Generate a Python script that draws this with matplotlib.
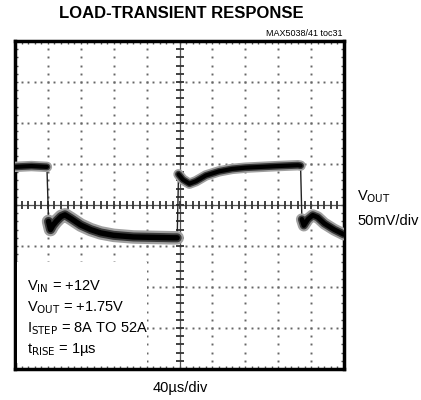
import numpy as np
import matplotlib
matplotlib.use("Agg")
import matplotlib.pyplot as plt
from matplotlib.patches import Rectangle

plt.rcParams['font.family'] = ['Liberation Sans', 'DejaVu Sans']

# Trace (time in divisions, level in divisions), split at the load steps
seg1_t = [0.0, 0.5, 0.97]
seg1_v = [0.93, 0.95, 0.93]
seg2_t = [1.02, 1.08, 1.15, 1.25, 1.4, 1.52, 1.7, 2.0, 2.3, 2.6, 3.0, 3.6, 4.2, 4.8, 4.93]
seg2_v = [-0.4, -0.6, -0.5, -0.4, -0.28, -0.24, -0.33, -0.49, -0.6, -0.68, -0.74, -0.78, -0.79, -0.8, -0.8]
seg3_t = [4.97, 5.1, 5.3, 5.5, 5.8, 6.2, 6.6, 7.0, 7.5, 8.0, 8.6, 8.68]
seg3_v = [0.75, 0.62, 0.52, 0.58, 0.72, 0.82, 0.88, 0.91, 0.93, 0.95, 0.97, 0.96]
seg4_t = [8.72, 8.78, 8.9, 9.05, 9.2, 9.4, 9.7, 10.0]
seg4_v = [-0.35, -0.5, -0.35, -0.25, -0.3, -0.45, -0.6, -0.72]
segments = [(seg1_t, seg1_v, 1.0), (seg2_t, seg2_v, 1.3), (seg3_t, seg3_v, 1.0), (seg4_t, seg4_v, 1.15)]

n_xdiv, n_ydiv = 10, 8
title = "LOAD-TRANSIENT RESPONSE"
code = "MAX5038/41 toc31"
xlabel = "40\u00b5s/div"
conds = [r"V$_{\rm IN}$ = +12V", r"V$_{\rm OUT}$ = +1.75V",
         r"I$_{\rm STEP}$ = 8A TO 52A", "t$_{\\rm RISE}$ = 1\u00b5s"]

W, H = 421, 400
fig = plt.figure(figsize=(W/100, H/100), dpi=100)
L, R, T, B = 15, 344, 41, 369
ax = fig.add_axes([L/W, 1-B/H, (R-L)/W, (B-T)/H])
ax.set_xlim(0, n_xdiv)
ax.set_ylim(-n_ydiv/2, n_ydiv/2)
ax.set_xticks([]); ax.set_yticks([])
for s in ax.spines.values():
    s.set_linewidth(2.5)
    s.set_color('black')

# dotted grid
minor_x = np.arange(0, n_xdiv + 1e-9, 0.2)
minor_y = np.arange(-n_ydiv/2, n_ydiv/2 + 1e-9, 0.2)
for gx in range(1, n_xdiv):
    if gx == n_xdiv // 2:
        continue
    ax.plot(np.full_like(minor_y, gx), minor_y, ls='none', marker='s', ms=1.4,
            mfc='#666666', mec='none')
for gy in range(-n_ydiv//2 + 1, n_ydiv//2):
    if gy == 0:
        continue
    ax.plot(minor_x, np.full_like(minor_x, gy), ls='none', marker='s', ms=1.4,
            mfc='#666666', mec='none')

# center cross with ticks
ax.axhline(0, color='#555555', lw=0.9)
ax.axvline(5, color='#555555', lw=0.9)
ax.plot(minor_x, np.zeros_like(minor_x), ls='none', marker='|', ms=6, mew=1.3, color='#333333')
ax.plot(np.full_like(minor_y, 5), minor_y, ls='none', marker='_', ms=6, mew=1.3, color='#333333')
# edge ticks
ax.plot(minor_x, np.full_like(minor_x, 4), ls='none', marker='|', ms=5, mew=1.0, color='#555555')
ax.plot(minor_x, np.full_like(minor_x, -4), ls='none', marker='|', ms=5, mew=1.0, color='#555555')
ax.plot(np.full_like(minor_y, 0), minor_y, ls='none', marker='_', ms=5, mew=1.0, color='#555555')
ax.plot(np.full_like(minor_y, 10), minor_y, ls='none', marker='_', ms=5, mew=1.0, color='#555555')

# trace: thin vertical edges, thick noisy-looking flat parts
all_t = seg1_t + seg2_t + seg3_t + seg4_t
all_v = seg1_v + seg2_v + seg3_v + seg4_v
ax.plot(all_t, all_v, color='#222222', lw=1.0, zorder=5)
for st, sv, k in segments:
    ax.plot(st, sv, color='#a0a0a0', lw=7.5 * k, solid_joinstyle='round', solid_capstyle='round', zorder=5)
    ax.plot(st, sv, color='#3a3a3a', lw=5.0 * k, solid_joinstyle='round', solid_capstyle='round', zorder=6)
    ax.plot(st, sv, color='black', lw=3.0 * k, solid_joinstyle='round', solid_capstyle='round', zorder=7)

# white box for conditions
ax.add_patch(Rectangle((0.05, -3.85), 3.95, 2.45, facecolor='white', edgecolor='none', zorder=8))
ys = [-2.0, -2.5, -3.02, -3.52]
for yv, txt in zip(ys, conds):
    ax.text(0.35, yv, txt, fontsize=10.5, va='center', ha='left', zorder=9)

fig.text(181/W, 1-13/H, title, fontsize=12, fontweight='bold', ha='center', va='center')
fig.text(343/W, 1-33/H, code, fontsize=6.5, ha='right', va='center')
fig.text(357/W, 1-197/H, r"V$_{\rm OUT}$", fontsize=10.5, ha='left', va='center')
fig.text(357/W, 1-221/H, "50mV/div", fontsize=10.5, ha='left', va='center')
fig.text(180/W, 1-388/H, xlabel, fontsize=10.5, ha='center', va='center')

fig.savefig("out.png", dpi=100)
